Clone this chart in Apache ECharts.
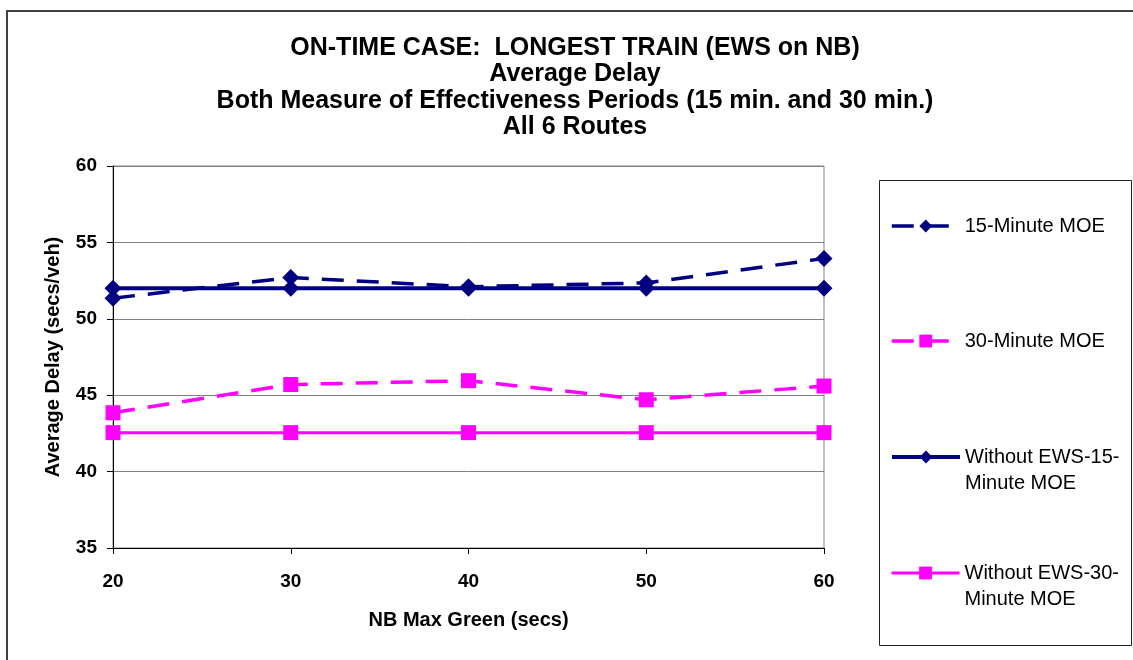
<!DOCTYPE html>
<html>
<head>
<meta charset="utf-8">
<script src="https://cdn.jsdelivr.net/npm/echarts@6/dist/echarts.min.js"></script>
<style>
  html, body { margin: 0; padding: 0; background: #fff; }
  #chart { width: 1133px; height: 660px; }
</style>
</head>
<body>
<div id="chart"></div>
<script>
// NB max green (secs)
const greenTimes = [20, 30, 40, 50, 60];
// average delay (secs/veh)
const moe15 = [51.35, 52.7, 52.1, 52.35, 53.95];
const moe30 = [43.85, 45.7, 45.95, 44.7, 45.6];
const noEws15 = [52, 52, 52, 52, 52];
const noEws30 = [42.55, 42.55, 42.55, 42.55, 42.55];
const yTicks = [35, 40, 45, 50, 55, 60];

const FONT = "'Liberation Sans', Arial, sans-serif";
const NAVY = '#000080';
const PINK = '#FF00FF';

const toPairs = vals => greenTimes.map((x, i) => [x, vals[i]]);

const chart = echarts.init(document.getElementById('chart'));

// one legend per entry so each one sits where Excel put it
const legendBase = {
  orient: 'vertical',
  left: 890,
  padding: 0,
  itemWidth: 68,
  itemHeight: 16,
  selectedMode: false,
  textStyle: { fontFamily: FONT, fontSize: 20, color: '#000' }
};
// leading empty line keeps the icon level with the first text line
const twoLine = { fontFamily: FONT, fontSize: 20, color: '#000', lineHeight: 26 };

const option = {
  animation: false,
  backgroundColor: '#fff',
  title: {
    text: 'ON-TIME CASE:  LONGEST TRAIN (EWS on NB)\nAverage Delay\nBoth Measure of Effectiveness Periods (15 min. and 30 min.)\nAll 6 Routes',
    left: 575,
    top: 35,
    padding: 0,
    textAlign: 'center',
    textStyle: { fontFamily: FONT, fontSize: 25, fontWeight: 'bold', color: '#000', lineHeight: 26.3 }
  },
  legend: [
    Object.assign({}, legendBase, {
      top: 216, data: ['15-Minute MOE'],
      lineStyle: { width: 3.5 }
    }),
    Object.assign({}, legendBase, {
      top: 331, data: ['30-Minute MOE'],
      lineStyle: { width: 3.5 }
    }),
    Object.assign({}, legendBase, {
      top: 418, data: ['Without EWS-15-Minute MOE'], textStyle: twoLine,
      lineStyle: { width: 4 },
      formatter: () => '\nWithout EWS-15-\nMinute MOE'
    }),
    Object.assign({}, legendBase, {
      top: 534, data: ['Without EWS-30-Minute MOE'], textStyle: twoLine,
      lineStyle: { width: 3 },
      formatter: () => '\nWithout EWS-30-\nMinute MOE'
    })
  ],
  grid: {
    left: 113,
    right: 309,
    top: 166,
    bottom: 112,
    show: true,
    borderColor: '#808080',
    borderWidth: 1,
    backgroundColor: '#fff'
  },
  xAxis: {
    type: 'value',
    min: 20,
    max: 60,
    interval: 10,
    name: 'NB Max Green (secs)',
    nameLocation: 'middle',
    nameGap: 62,
    nameTextStyle: { fontFamily: FONT, fontSize: 20, fontWeight: 'bold', color: '#000' },
    axisLine: { lineStyle: { color: '#000', width: 1 } },
    axisTick: { length: 6, lineStyle: { color: '#000' } },
    axisLabel: { margin: 24, fontFamily: FONT, fontSize: 19, fontWeight: 'bold', color: '#000' },
    splitLine: { show: false }
  },
  yAxis: {
    type: 'value',
    min: yTicks[0],
    max: yTicks[yTicks.length - 1],
    interval: 5,
    name: 'Average Delay (secs/veh)',
    nameLocation: 'middle',
    nameGap: 50,
    nameTextStyle: { fontFamily: FONT, fontSize: 20, fontWeight: 'bold', color: '#000' },
    axisLine: { show: true, lineStyle: { color: '#000', width: 1 } },
    axisTick: { show: true, length: 6, lineStyle: { color: '#000' } },
    axisLabel: { margin: 16, fontFamily: FONT, fontSize: 19, fontWeight: 'bold', color: '#000' },
    splitLine: { show: true, lineStyle: { color: '#808080', width: 1 } }
  },
  series: [
    {
      name: '15-Minute MOE',
      type: 'line',
      data: toPairs(moe15),
      symbol: 'diamond',
      symbolSize: 17,
      itemStyle: { color: NAVY },
      lineStyle: { color: NAVY, width: 3.5, type: [22, 13] }
    },
    {
      name: '30-Minute MOE',
      type: 'line',
      data: toPairs(moe30),
      symbol: 'rect',
      symbolSize: 15,
      itemStyle: { color: PINK },
      lineStyle: { color: PINK, width: 3.5, type: [22, 13] }
    },
    {
      name: 'Without EWS-15-Minute MOE',
      type: 'line',
      data: toPairs(noEws15),
      symbol: 'diamond',
      symbolSize: 17,
      itemStyle: { color: NAVY },
      lineStyle: { color: NAVY, width: 4 }
    },
    {
      name: 'Without EWS-30-Minute MOE',
      type: 'line',
      data: toPairs(noEws30),
      symbol: 'rect',
      symbolSize: 15,
      itemStyle: { color: PINK },
      lineStyle: { color: PINK, width: 3 }
    }
  ],
  graphic: [
    // outer chart frame (right and bottom edges fall outside the picture)
    {
      type: 'rect', silent: true, z: -10,
      shape: { x: 7, y: 11, width: 1140, height: 660 },
      style: { fill: null, stroke: '#404040', lineWidth: 2 }
    },
    // legend frame
    {
      type: 'rect', silent: true, z: -10,
      shape: { x: 879.5, y: 180.5, width: 252, height: 465 },
      style: { fill: '#fff', stroke: '#222', lineWidth: 1 }
    }
  ]
};

chart.setOption(option);
</script>
</body>
</html>
